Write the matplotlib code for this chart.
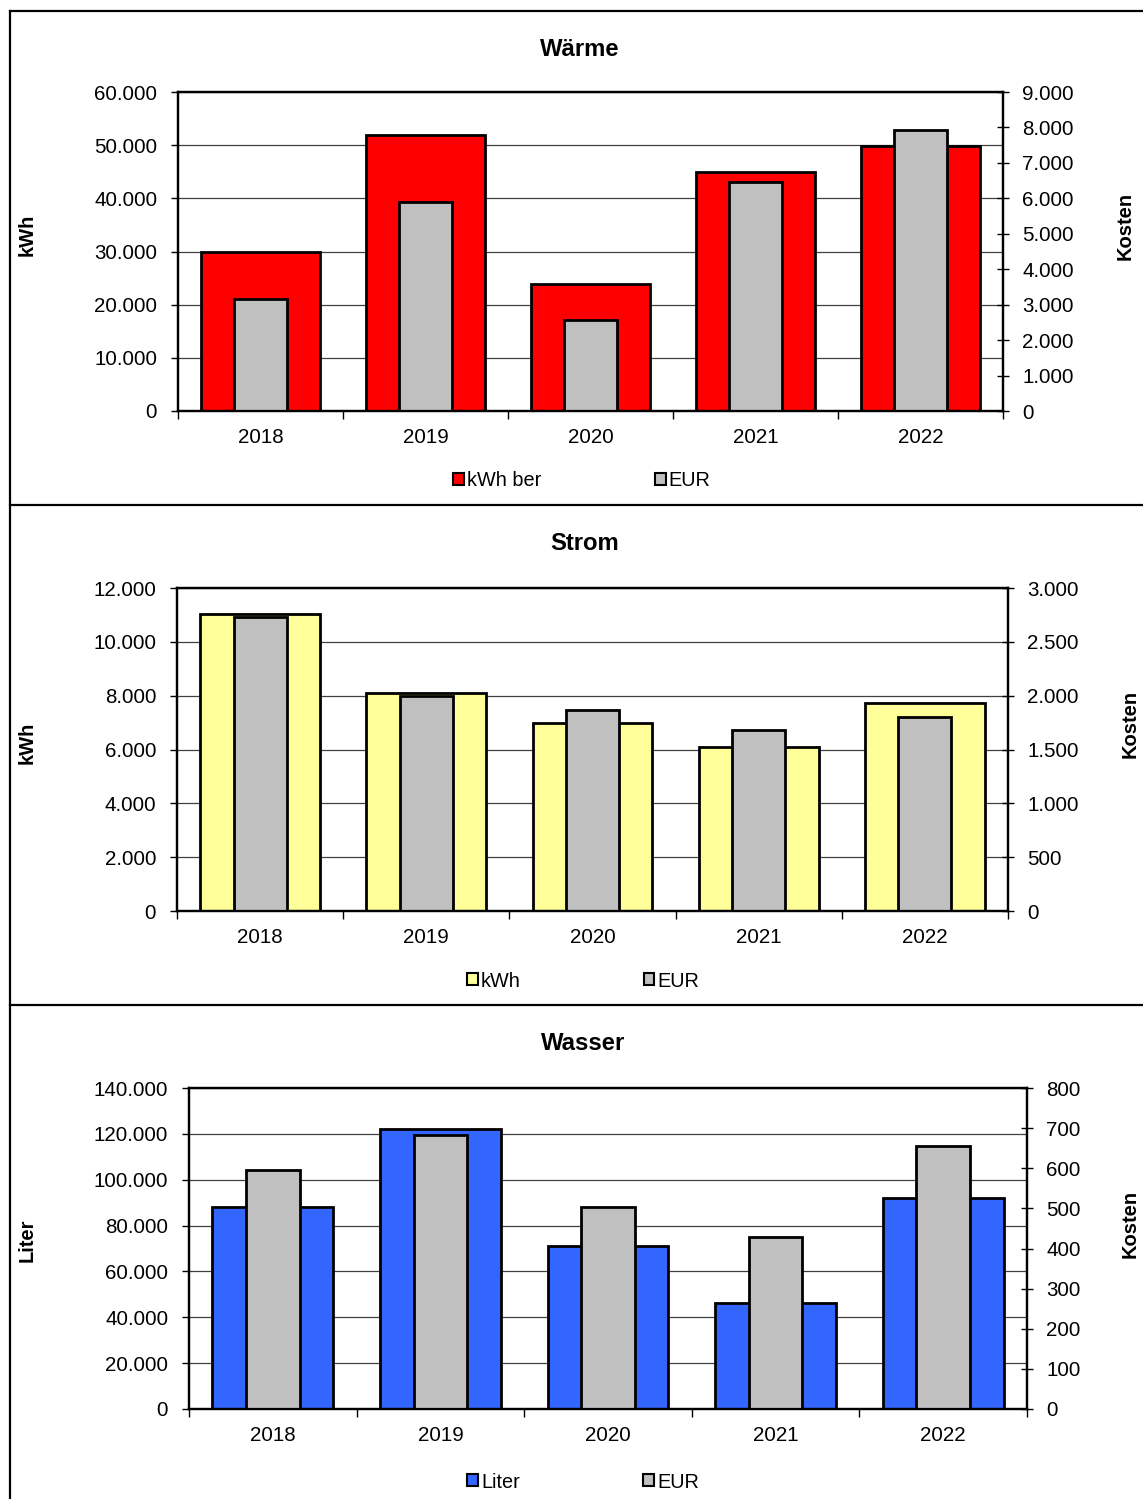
import matplotlib
matplotlib.use("Agg")
import matplotlib.pyplot as plt
from matplotlib.patches import Patch
from matplotlib.lines import Line2D
from matplotlib.ticker import FuncFormatter, MultipleLocator
import numpy as np

plt.rcParams['font.family'] = ['Liberation Sans', 'DejaVu Sans']

years = ['2018', '2019', '2020', '2021', '2022']

waerme_kwh = [30000, 52000, 23800, 44950, 49750]
waerme_eur = [3160, 5910, 2570, 6450, 7930]
strom_kwh = [11050, 8100, 6980, 6090, 7740]
strom_eur = [2730, 2000, 1870, 1685, 1805]
wasser_liter = [88100, 122100, 71200, 46100, 92150]
wasser_eur = [595, 684, 504, 428, 656]

W, H = 1143, 1499
fig = plt.figure(figsize=(W / 100, H / 100), dpi=100)


def fx(x):
    return x / W


def fy(y):
    return 1 - y / H


def dots(v, pos):
    return f"{v:,.0f}".replace(",", ".")


def panel(box, vals, eur, color, lmax, lstep, rmax, rstep,
          title, title_xy, ylab, ylab_xy, kosten_xy, leglab, leg_xy, colspace):
    left, top, right, bottom = box
    ax = fig.add_axes([fx(left), fy(bottom), (right - left) / W, (bottom - top) / H])
    x = np.arange(len(years))
    ax.bar(x, vals, 0.72, color=color, edgecolor='black', linewidth=2, zorder=2)
    ax.set_xlim(-0.5, len(years) - 0.5)
    ax.set_ylim(0, lmax)
    ax.yaxis.set_major_locator(MultipleLocator(lstep))
    ax.yaxis.set_major_formatter(FuncFormatter(dots))
    ax.grid(axis='y', color='#404040', linewidth=0.9)
    ax.set_axisbelow(True)
    ax.set_xticks(x)
    ax.set_xticklabels(years)
    ax.set_xticks(np.arange(-0.5, len(years)), minor=True)
    ax.tick_params(axis='x', which='major', length=0, labelsize=14.8, pad=12)
    ax.tick_params(axis='x', which='minor', length=6, width=1, direction='out')
    ax.tick_params(axis='y', length=5, width=1, direction='out', labelsize=14.8, pad=10)

    ax2 = ax.twinx()
    ax2.bar(x, eur, 0.32, color='#C0C0C0', edgecolor='black', linewidth=2, zorder=2)
    ax2.set_ylim(0, rmax)
    ax2.yaxis.set_major_locator(MultipleLocator(rstep))
    ax2.yaxis.set_major_formatter(FuncFormatter(dots))
    ax2.tick_params(axis='y', length=8, width=1, direction='inout', labelsize=14.8, pad=10)
    for a in (ax, ax2):
        for s in a.spines.values():
            s.set_linewidth(1.6)
            s.set_color('black')

    fig.text(fx(title_xy[0]), fy(title_xy[1]), title, ha='center', va='center',
             fontsize=17.2, fontweight='bold')
    fig.text(fx(ylab_xy[0]), fy(ylab_xy[1]), ylab, ha='center', va='center',
             rotation=90, fontsize=14.5, fontweight='bold')
    fig.text(fx(kosten_xy[0]), fy(kosten_xy[1]), 'Kosten', ha='center', va='center',
             rotation=90, fontsize=14.5, fontweight='bold')

    handles = [Patch(facecolor=color, edgecolor='black', linewidth=1.5),
               Patch(facecolor='#C0C0C0', edgecolor='black', linewidth=1.5)]
    fig.legend(handles, [leglab, 'EUR'], loc='center',
               bbox_to_anchor=(fx(leg_xy[0]), fy(leg_xy[1])), ncol=2, frameon=False,
               fontsize=14.3, handlelength=0.55, handleheight=0.55, handletextpad=0.15,
               columnspacing=colspace, borderaxespad=0, borderpad=0)


panel((178, 92, 1003, 411), waerme_kwh, waerme_eur, '#FF0000', 60000, 10000, 9000, 1000,
      'Wärme', (580, 49), 'kWh', (27, 235), (1125, 226), 'kWh ber', (582, 481), 5.7)
panel((177, 588, 1008, 911), strom_kwh, strom_eur, '#FFFF99', 12000, 2000, 3000, 500,
      'Strom', (585, 543), 'kWh', (27, 743), (1130, 724), 'kWh', (583, 981), 6.2)
panel((189, 1088, 1027, 1409), wasser_liter, wasser_eur, '#3366FF', 140000, 20000, 800, 100,
      'Wasser', (583, 1044), 'Liter', (27, 1240), (1130, 1224), 'Liter', (583, 1482), 6.2)

# panel frames
for y in (11, 505, 1005):
    fig.add_artist(Line2D([fx(10), 1], [fy(y), fy(y)], color='black', linewidth=1.6,
                          transform=fig.transFigure))
fig.add_artist(Line2D([fx(10), fx(10)], [fy(11), 0], color='black', linewidth=1.6,
                      transform=fig.transFigure))

fig.savefig('out.png', dpi=100)
